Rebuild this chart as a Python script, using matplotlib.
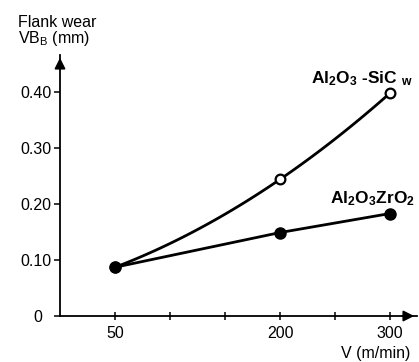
import numpy as np
import matplotlib
matplotlib.use('Agg')
import matplotlib.pyplot as plt

# cutting speed (m/min) and flank wear VB_B (mm)
speed = [50, 200, 300]
wear_sicw = [0.087, 0.244, 0.398]
wear_zro2 = [0.087, 0.149, 0.183]

xticks = [50, 100, 150, 200, 250, 300]
xticklabels = ['50', '', '', '200', '', '300']
yticks = [0, 0.10, 0.20, 0.30, 0.40]
yticklabels = ['0  ', '0.10', '0.20', '0.30', '0.40']

plt.rcParams['font.family'] = ['Liberation Sans', 'DejaVu Sans']
plt.rcParams['mathtext.fontset'] = 'custom'
plt.rcParams['mathtext.rm'] = 'Liberation Sans'
plt.rcParams['mathtext.bf'] = 'Liberation Sans:bold'
plt.rcParams['mathtext.it'] = 'Liberation Sans:italic'

W, H = 419, 362
fig = plt.figure(figsize=(W / 100, H / 100), dpi=100)
ax = fig.add_axes([60 / W, (H - 316) / H, (417 - 60) / W, (316 - 55) / H])
ax.set_xlim(0, 324.5)
ax.set_ylim(0, 0.466)

# smooth curve for the SiC whisker series (quadratic through the three points)
c = np.polyfit(speed, wear_sicw, 2)
xs = np.linspace(speed[0], speed[-1], 100)
ax.plot(xs, np.polyval(c, xs), color='k', lw=2.0, zorder=2)
ax.plot(speed, wear_sicw, 'o', color='k', mfc='white', mec='k', mew=1.6, ms=7, zorder=4, clip_on=False)

ax.plot(speed, wear_zro2, '-', color='k', lw=2.0, zorder=2)
ax.plot(speed, wear_zro2, 'o', color='k', ms=8, zorder=5, clip_on=False)

for s in ['top', 'right']:
    ax.spines[s].set_visible(False)
for s in ['left', 'bottom']:
    ax.spines[s].set_linewidth(1.3)

ax.annotate('', xy=(0, 1.0), xytext=(0, 0.95), xycoords='axes fraction',
            arrowprops=dict(arrowstyle='-|>', color='k', lw=1.3, mutation_scale=16))
ax.annotate('', xy=(1.0, 0), xytext=(0.95, 0), xycoords='axes fraction',
            arrowprops=dict(arrowstyle='-|>', color='k', lw=1.3, mutation_scale=16))

ax.set_xticks(xticks)
ax.set_xticklabels(xticklabels)
ax.set_yticks(yticks)
ax.set_yticklabels(yticklabels)
ax.tick_params(axis='x', direction='inout', length=6, width=1.1, labelsize=11.5, pad=4)
ax.tick_params(axis='y', direction='out', length=4, width=1.1, labelsize=11.5, pad=2)

fig.text(18 / W, 1 - 27 / H, 'Flank wear', fontsize=11.5, ha='left', va='baseline')
fig.text(18 / W, 1 - 43 / H, r'VB$_\mathregular{B}$ (mm)', fontsize=11.5, ha='left', va='baseline')
fig.text(410 / W, 1 - 358 / H, 'V (m/min)', fontsize=11.5, ha='right', va='baseline')

fig.text(311 / W, 1 - 83 / H, r'Al$_\mathbf{2}$O$_\mathbf{3}$ -SiC $_\mathbf{w}$',
         fontsize=12.5, fontweight='bold', ha='left', va='baseline')
fig.text(415 / W, 1 - 203 / H, r'Al$_\mathbf{2}$O$_\mathbf{3}$ZrO$_\mathbf{2}$',
         fontsize=12.5, fontweight='bold', ha='right', va='baseline')

fig.savefig('out.png', dpi=100)
